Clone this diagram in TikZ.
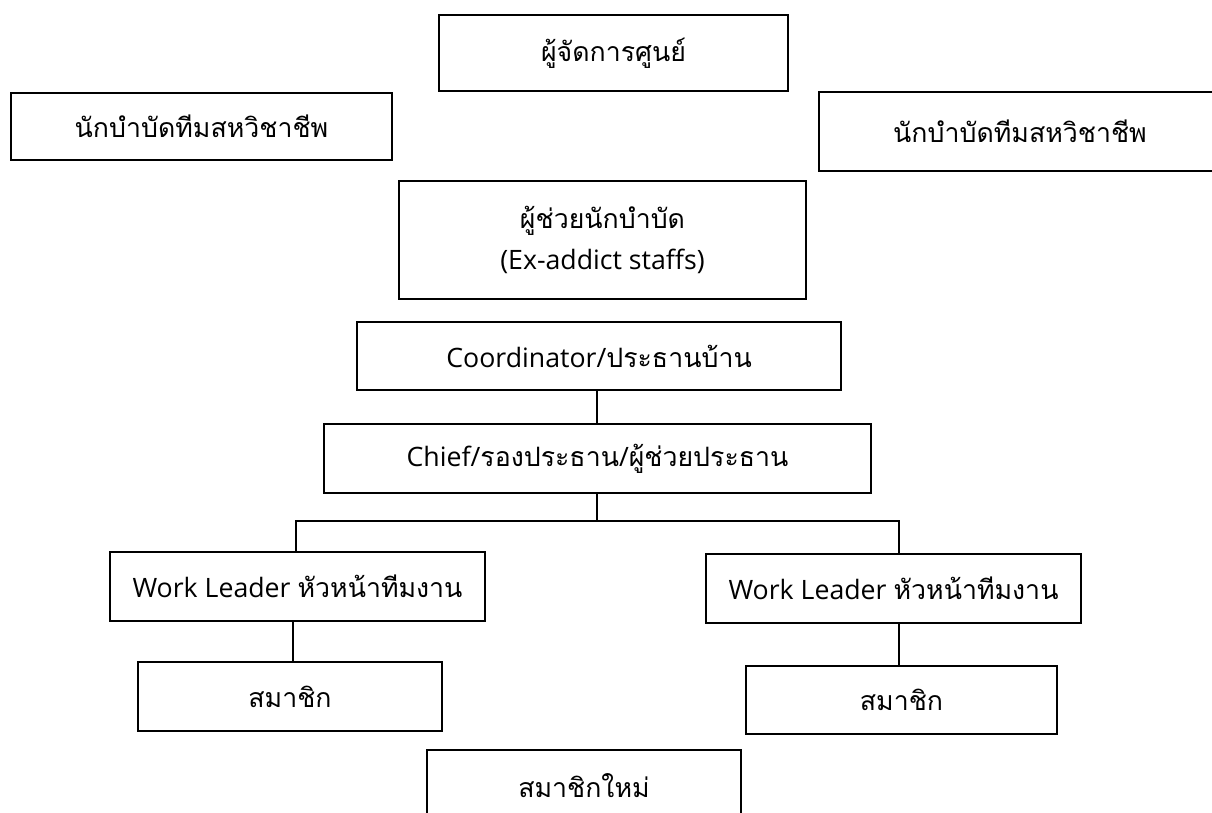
\documentclass[tikz,border=0pt]{standalone}
\usepackage{fontspec}
\setmainfont{Open Sans}
\newfontfamily\thai[Script=Thai]{Loma}
\begin{document}
\begin{tikzpicture}[x=1pt,y=-1pt,
  box/.style={draw=black, line width=1.3pt, rectangle, inner sep=0pt, align=center,
    font=\fontsize{26.7}{35}\selectfont},
  conn/.style={draw=black, line width=1.3pt}]
\clip (0,0) rectangle (1212,812);
\fill[white] (0,0) rectangle (1212,812);
\node[box, minimum width=349pt, minimum height=76pt] (mgr) at (613.5,53) {\thai ผู้จัดการศูนย์};
\node[box, minimum width=381pt, minimum height=67pt] (tl) at (201.5,126.5) {\thai นักบำบัดทีมสหวิชาชีพ};
\node[box, minimum width=402pt, minimum height=79pt] (tr) at (1020,131.5) {\thai นักบำบัดทีมสหวิชาชีพ};
\node[box, minimum width=407pt, minimum height=118pt] (asst) at (602.5,240) {{\thai ผู้ช่วยนักบำบัด}\\[6pt](Ex-addict staffs)};
\node[box, minimum width=484pt, minimum height=68pt] (coord) at (599,356) {Coordinator/{\thai ประธานบ้าน}};
\node[box, minimum width=547pt, minimum height=69pt] (chief) at (597.5,458.5) {Chief/{\thai รองประธาน}/{\thai ผู้ช่วยประธาน}};
\node[box, minimum width=375pt, minimum height=69pt] (wl1) at (297.5,586.5) {Work Leader {\thai หัวหน้าทีมงาน}};
\node[box, minimum width=375pt, minimum height=69pt] (wl2) at (893.5,588.5) {Work Leader {\thai หัวหน้าทีมงาน}};
\node[box, minimum width=304pt, minimum height=69pt] (m1) at (290,696.5) {\thai สมาชิก};
\node[box, minimum width=311pt, minimum height=68pt] (m2) at (901.5,700) {\thai สมาชิก};
\node[box, minimum width=314pt, minimum height=72pt] (new) at (584,786) {\thai สมาชิกใหม่};
\coordinate (j0) at (597,521);
\coordinate (j1) at (296,521);
\coordinate (j2) at (899,521);
\draw[conn] (coord.south -| j0) -- (chief.north -| j0);
\draw[conn] (chief.south -| j0) -- (j0);
\draw[conn] (j1 |- wl1.north) -- (j1) -- (j2) -- (j2 |- wl2.north);
\draw[conn] (wl1.south -| 293,0) -- (m1.north -| 293,0);
\draw[conn] (wl2.south -| j2) -- (m2.north -| j2);
\end{tikzpicture}
\end{document}
